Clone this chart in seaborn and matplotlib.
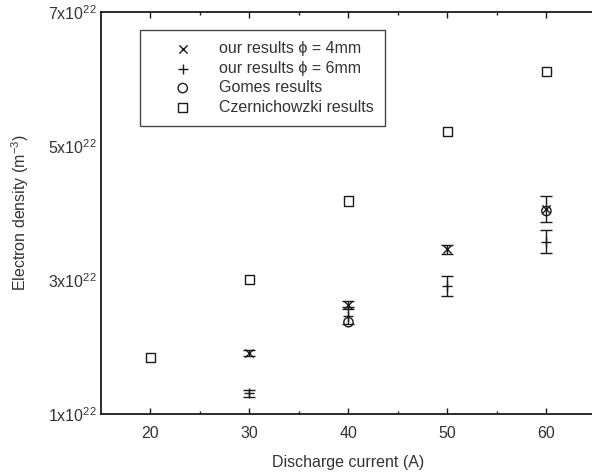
import pandas as pd
import matplotlib
matplotlib.use("Agg")
import matplotlib.pyplot as plt
import seaborn as sns

# values in units of 1e22 m^-3
current_4mm = [30, 40, 50, 60]
density_4mm = [1.91, 2.63, 3.46, 4.06]
err_4mm = [0.04, 0.06, 0.07, 0.20]

current_6mm = [30, 40, 50, 60]
density_6mm = [1.31, 2.47, 2.91, 3.57]
err_6mm = [0.05, 0.12, 0.15, 0.17]

current_gomes = [40, 60]
density_gomes = [2.37, 4.03]

current_czer = [20, 30, 40, 50, 60]
density_czer = [1.84, 3.01, 4.18, 5.22, 6.11]

y_ticks = [1, 3, 5, 7]
x_ticks = [20, 30, 40, 50, 60]

sns.set_theme(style="ticks")
plt.rcParams['font.family'] = ['Liberation Sans', 'DejaVu Sans']
plt.rcParams['mathtext.fontset'] = 'custom'
plt.rcParams['mathtext.rm'] = 'Liberation Sans'
plt.rcParams['mathtext.it'] = 'Liberation Sans'

fig = plt.figure(figsize=(5.92, 4.74), dpi=100)
ax = fig.add_axes([0.1706, 0.1266, 0.836, 0.848])

ink = "#1a1a1a"
txt = "#333333"

# error bars
ax.errorbar(current_4mm, density_4mm, yerr=err_4mm, fmt='none', ecolor=ink,
            elinewidth=1.0, capsize=4, capthick=1.0)
ax.errorbar(current_6mm, density_6mm, yerr=err_6mm, fmt='none', ecolor=ink,
            elinewidth=1.0, capsize=4, capthick=1.0)

df4 = pd.DataFrame({'I': current_4mm, 'n': density_4mm})
df6 = pd.DataFrame({'I': current_6mm, 'n': density_6mm})
dfg = pd.DataFrame({'I': current_gomes, 'n': density_gomes})
dfc = pd.DataFrame({'I': current_czer, 'n': density_czer})

sns.scatterplot(data=df4, x='I', y='n', marker='x', s=35, color=ink,
                linewidth=1.0, ax=ax, label='our results \u03d5 = 4mm')
sns.scatterplot(data=df6, x='I', y='n', marker='+', s=55, color=ink,
                linewidth=1.0, ax=ax, label='our results \u03d5 = 6mm')
sns.scatterplot(data=dfg, x='I', y='n', marker='o', s=45, facecolor='none',
                edgecolor=ink, linewidth=1.0, ax=ax, label='Gomes results')
sns.scatterplot(data=dfc, x='I', y='n', marker='s', s=45, facecolor='none',
                edgecolor=ink, linewidth=1.0, ax=ax, label='Czernichowzki results')

ax.set_xlim(15, 65)
ax.set_ylim(1, 7)
ax.set_xticks(x_ticks)
ax.set_xticks([25, 35, 45, 55], minor=True)
ax.set_yticks(y_ticks)
ax.set_yticklabels([f'{v}x10$^{{22}}$' for v in y_ticks])

ax.tick_params(axis='both', which='both', direction='in', top=True,
               labelsize=11.5, colors=ink, labelcolor=txt)
ax.tick_params(axis='x', which='major', length=4, width=1, pad=9)
ax.tick_params(axis='x', which='minor', length=2, width=1)
ax.tick_params(axis='y', which='major', length=0, pad=3)
for side in ['left', 'bottom', 'top']:
    ax.spines[side].set_linewidth(1.3)
    ax.spines[side].set_color(ink)
ax.spines['right'].set_visible(False)

ax.set_xlabel('Discharge current (A)', fontsize=11.5, color=txt, labelpad=10)
ax.set_ylabel('Electron density (m$^{-3}$)', fontsize=11.5, color=txt, labelpad=12)

leg = ax.legend(loc='upper left', bbox_to_anchor=(0.078, 0.955), fontsize=11.5,
                frameon=True, fancybox=False, edgecolor=ink, borderpad=0.7,
                handletextpad=0.3, labelspacing=0.28, borderaxespad=0,
                handlelength=4.0)
leg.get_frame().set_linewidth(1.0)
for t in leg.get_texts():
    t.set_color(txt)

fig.savefig('out.png', dpi=100)
